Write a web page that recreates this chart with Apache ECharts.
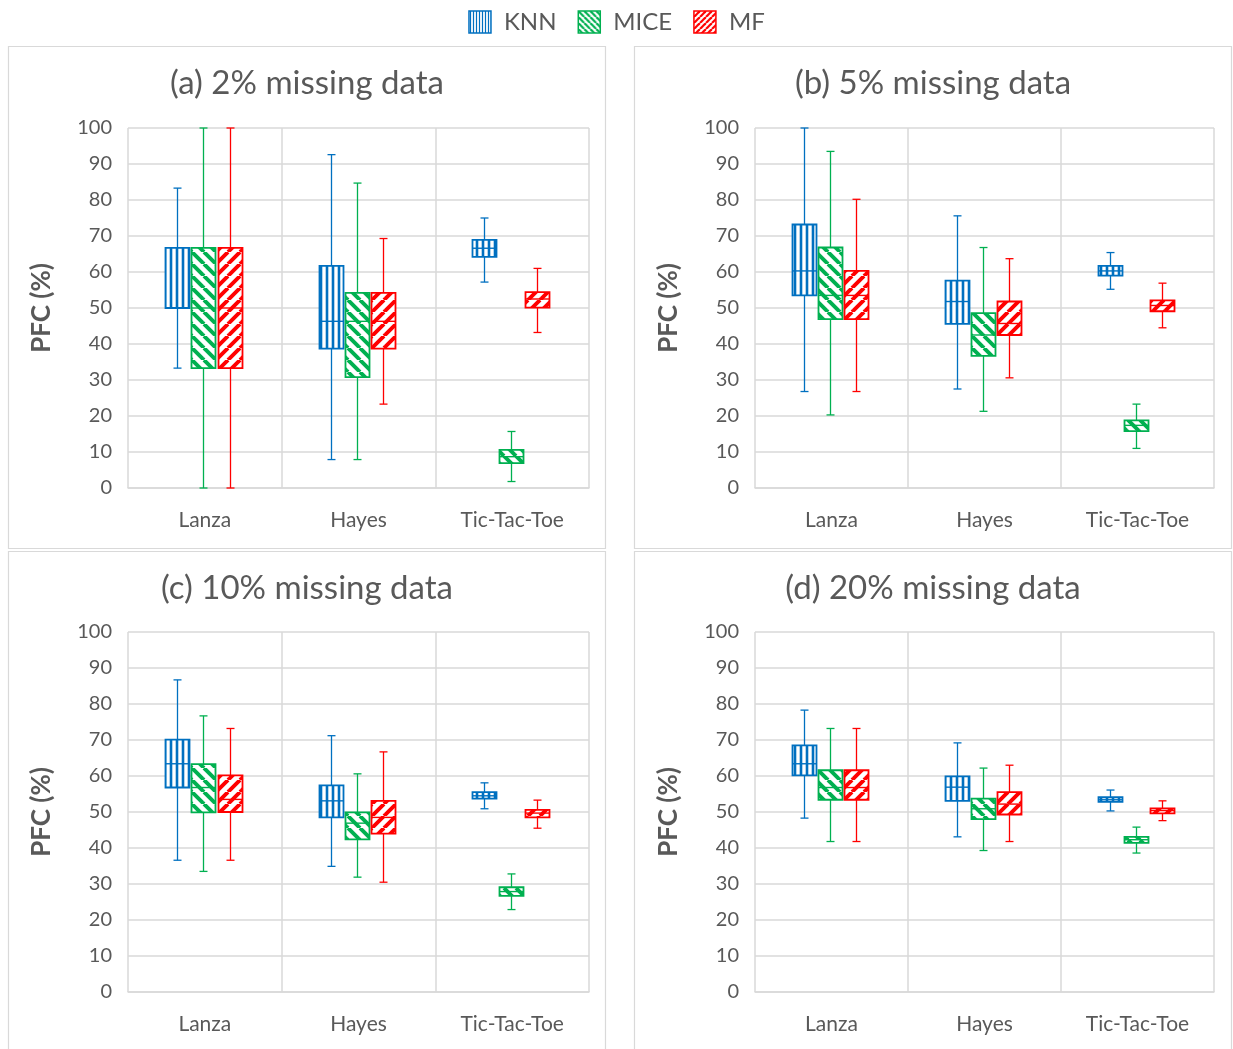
<!DOCTYPE html>
<html><head><meta charset="utf-8">
<script src="https://cdn.jsdelivr.net/npm/echarts@6/dist/echarts.min.js"></script>
<style>html,body{margin:0;padding:0;background:#fff;} #c{width:1233px;height:1049px;}</style>
</head><body><div id="c"></div>
<script>
const categories = ['Lanza', 'Hayes', 'Tic-Tac-Toe'];
const methods = ['KNN', 'MICE', 'MF'];
const panelTitles = ['(a) 2% missing data', '(b) 5% missing data', '(c) 10% missing data', '(d) 20% missing data'];
const yAxisName = 'PFC (%)';
// each row: [min, Q1, median, Q3, max] for Lanza, Hayes, Tic-Tac-Toe
const knn2  = [[33.3, 50.0, 50.0, 66.7, 83.3], [7.9, 38.7, 46.3, 61.7, 92.6], [57.2, 64.2, 66.6, 68.9, 75.0]];
const mice2 = [[0.0, 33.3, 50.0, 66.7, 100.0], [7.9, 30.8, 46.3, 54.2, 84.7], [1.8, 6.9, 8.7, 10.6, 15.7]];
const mf2   = [[0.0, 33.3, 50.0, 66.7, 100.0], [23.3, 38.7, 46.3, 54.2, 69.3], [43.2, 50.1, 52.5, 54.4, 61.0]];

const knn5  = [[26.8, 53.5, 60.3, 73.2, 100.0], [27.5, 45.6, 51.8, 57.6, 75.6], [55.2, 59.0, 60.3, 61.7, 65.4]];
const mice5 = [[20.3, 46.9, 53.5, 66.8, 93.5], [21.3, 36.7, 42.5, 48.6, 66.8], [11.0, 15.8, 17.4, 18.8, 23.3]];
const mf5   = [[26.8, 46.9, 53.5, 60.3, 80.2], [30.6, 42.5, 45.7, 51.8, 63.7], [44.5, 49.1, 50.7, 52.1, 56.9]];

const knn10  = [[36.6, 56.8, 63.4, 70.1, 86.7], [34.9, 48.5, 53.1, 57.4, 71.2], [50.9, 53.7, 54.5, 55.5, 58.1]];
const mice10 = [[33.5, 49.9, 56.8, 63.3, 76.7], [31.9, 42.4, 46.9, 49.9, 60.6], [22.9, 26.7, 27.9, 29.1, 32.8]];
const mf10   = [[36.6, 50.0, 53.5, 60.2, 73.2], [30.5, 44.0, 48.5, 53.1, 66.7], [45.5, 48.5, 49.7, 50.6, 53.3]];

const knn20  = [[48.3, 60.2, 63.4, 68.5, 78.3], [43.1, 53.1, 56.9, 59.9, 69.2], [50.3, 52.8, 53.4, 54.1, 56.1]];
const mice20 = [[41.8, 53.4, 56.8, 61.6, 73.2], [39.3, 48.0, 50.9, 53.7, 62.2], [38.6, 41.4, 42.3, 43.1, 45.8]];
const mf20   = [[41.8, 53.4, 56.8, 61.6, 73.2], [41.8, 49.3, 52.2, 55.5, 63.0], [47.6, 49.6, 50.4, 51.0, 53.1]];

const panelData = [[knn2, mice2, mf2], [knn5, mice5, mf5], [knn10, mice10, mf10], [knn20, mice20, mf20]];

// ---- styling / layout ----
const FONT = 'Lato, "Open Sans", sans-serif';
const TXT = '#595959';
const GRIDC = '#d9d9d9';
const colors = ['#0070C0', '#00B050', '#FF0000'];
const grids = [
  {left: 128, top: 128, width: 461, height: 360},
  {left: 755, top: 128, width: 459, height: 360},
  {left: 128, top: 632, width: 461, height: 360},
  {left: 755, top: 632, width: 459, height: 360}
];
const panels = [
  {x: 8.5, y: 46.5, w: 597, h: 502},
  {x: 634.5, y: 46.5, w: 597, h: 502},
  {x: 8.5, y: 551.5, w: 597, h: 502},
  {x: 634.5, y: 551.5, w: 597, h: 502}
];
const BOX_W = 24, CAP_W = 8, SPACING = 26.3, SHIFT = -1.5;

function makePattern(color, type, size, thick) {
  const c = document.createElement('canvas');
  c.width = size; c.height = size;
  const g = c.getContext('2d');
  g.fillStyle = '#fff'; g.fillRect(0, 0, size, size);
  g.fillStyle = color; g.strokeStyle = color; g.lineWidth = thick;
  if (type === 'v') {
    g.fillRect((size - thick) / 2, 0, thick, size);
  } else {
    for (let k = -1; k <= 1; k++) {
      g.beginPath();
      if (type === 'b') { g.moveTo(k * size, 0); g.lineTo(k * size + size, size); }
      else { g.moveTo(k * size, size); g.lineTo(k * size + size, 0); }
      g.stroke();
    }
  }
  return {image: c, repeat: 'repeat'};
}
const boxPatterns = [makePattern(colors[0], 'v', 6, 2.6), makePattern(colors[1], 'b', 12, 3.9), makePattern(colors[2], 'f', 12, 3.9)];
const legendPatterns = [makePattern(colors[0], 'v', 3, 1.2), makePattern(colors[1], 'b', 6, 2.2), makePattern(colors[2], 'f', 6, 2.2)];

function makeRender(m) {
  const color = colors[m], fill = boxPatterns[m];
  const offset = SHIFT + (m - 1) * SPACING;
  return function (params, api) {
    const ci = api.value(0);
    const p = [1, 2, 3, 4, 5].map(d => api.coord([ci, api.value(d)]));
    const cx = Math.round(p[0][0] + offset) + 0.5;
    const yMin = p[0][1], yQ1 = p[1][1], yMed = p[2][1], yQ3 = p[3][1], yMax = p[4][1];
    const ls = {stroke: color, lineWidth: 1.3};
    return {
      type: 'group',
      children: [
        {type: 'line', shape: {x1: cx, y1: yMin, x2: cx, y2: yMax}, style: ls},
        {type: 'line', shape: {x1: cx - CAP_W / 2, y1: yMin, x2: cx + CAP_W / 2, y2: yMin}, style: ls},
        {type: 'line', shape: {x1: cx - CAP_W / 2, y1: yMax, x2: cx + CAP_W / 2, y2: yMax}, style: ls},
        {type: 'rect', shape: {x: cx - BOX_W / 2, y: yQ3, width: BOX_W, height: yQ1 - yQ3},
          style: {fill: fill, stroke: color, lineWidth: 1.8}},
        {type: 'line', shape: {x1: cx - BOX_W / 2, y1: yMed, x2: cx + BOX_W / 2, y2: yMed}, style: {stroke: color, lineWidth: 1.4}}
      ]
    };
  };
}

const option = {
  animation: false,
  backgroundColor: '#fff',
  textStyle: {fontFamily: FONT},
  legend: {
    top: 5, left: 'center', icon: 'rect', itemWidth: 22, itemHeight: 22, itemGap: 21,
    textStyle: {fontSize: 24, color: TXT, fontFamily: FONT, padding: [0, 0, 0, 8]},
    data: methods.map((n, i) => ({name: n, itemStyle: {color: legendPatterns[i], borderColor: colors[i], borderWidth: 1.5}}))
  },
  title: panelTitles.map((t, i) => ({
    text: t, left: panels[i].x + panels[i].w / 2, top: panels[i].y + 20, textAlign: 'center', padding: 0,
    textStyle: {fontSize: 33, fontWeight: 'normal', color: TXT, fontFamily: FONT}
  })),
  graphic: panels.map(p => ({type: 'rect', silent: true, z: -10, shape: {x: p.x, y: p.y, width: p.w, height: p.h},
    style: {fill: 'none', stroke: GRIDC, lineWidth: 1.2}})),
  grid: grids,
  xAxis: grids.map((g, i) => ({
    type: 'category', gridIndex: i, data: categories,
    axisLine: {show: true, lineStyle: {color: GRIDC, width: 1.5}},
    axisTick: {show: false},
    axisLabel: {fontSize: 21, color: TXT, fontFamily: FONT, margin: 22},
    splitLine: {show: true, lineStyle: {color: GRIDC, width: 1.5}}
  })),
  yAxis: grids.map((g, i) => ({
    type: 'value', gridIndex: i, min: 0, max: 100, interval: 10,
    name: yAxisName, nameLocation: 'middle', nameGap: 73,
    nameTextStyle: {fontSize: 26, fontWeight: 'bold', color: TXT, fontFamily: FONT},
    axisLine: {show: false}, axisTick: {show: false},
    axisLabel: {fontSize: 20, color: TXT, fontFamily: FONT, margin: 16},
    splitLine: {show: true, lineStyle: {color: GRIDC, width: 1.5}}
  })),
  series: []
};

panelData.forEach((pd, pi) => {
  pd.forEach((arr, m) => {
    option.series.push({
      type: 'custom', name: methods[m], xAxisIndex: pi, yAxisIndex: pi,
      renderItem: makeRender(m), clip: false,
      itemStyle: {color: boxPatterns[m], borderColor: colors[m]},
      encode: {x: 0, y: [1, 2, 3, 4, 5]},
      data: arr.map((v, ci) => [ci].concat(v))
    });
  });
});

const chart = echarts.init(document.getElementById('c'), null, {renderer: 'canvas'});
chart.setOption(option);
</script>
</body></html>
